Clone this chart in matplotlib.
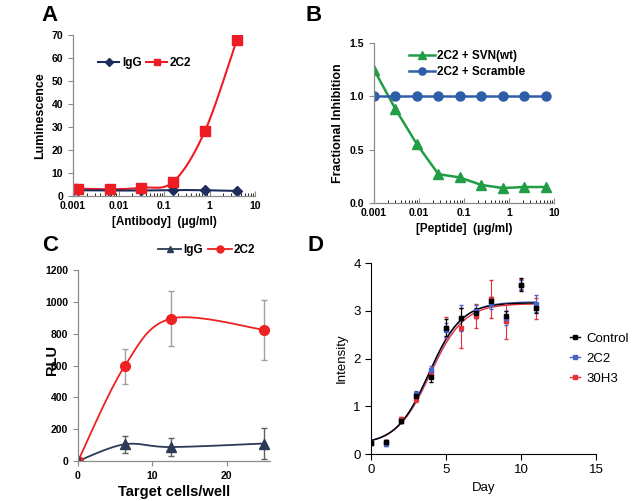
import numpy as np
import matplotlib
matplotlib.use("Agg")
import matplotlib.pyplot as plt

plt.rcParams['font.family'] = ['Liberation Sans', 'DejaVu Sans']

# Painel A
a_x = [0.001, 0.00128, 0.0064, 0.032, 0.16, 0.8, 4.0]
a_igg = [2.5, 2.5, 2.4, 2.4, 2.6, 2.5, 2.2]
a_2c2 = [3.0, 3.2, 2.9, 3.6, 6.2, 28.4, 68.0]

# Painel B
b_x = [0.001, 0.003, 0.009, 0.027, 0.08, 0.24, 0.73, 2.2, 6.6]
b_wt = [1.25, 0.88, 0.55, 0.27, 0.24, 0.17, 0.14, 0.15, 0.15]
b_scr = [1.0, 1.0, 1.0, 1.0, 1.0, 1.0, 1.0, 1.0, 1.0]

# Painel C
c_x = [0, 6.25, 12.5, 25]
c_igg = [0, 105, 88, 110]
c_igg_err = [0, 55, 55, 95]
c_2c2 = [0, 595, 895, 825]
c_2c2_err = [0, 112, 175, 190]

# Painel D
d_dias = [0, 1, 2, 3, 4, 5, 6, 7, 8, 9, 10, 11]
d_ctrl = [0.23, 0.25, 0.70, 1.22, 1.62, 2.65, 2.85, 2.95, 3.20, 2.90, 3.55, 3.05]
d_ctrl_err = [0.02, 0.05, 0.04, 0.08, 0.12, 0.18, 0.20, 0.10, 0.08, 0.10, 0.13, 0.10]
d_2c2 = [0.23, 0.22, 0.70, 1.25, 1.75, 2.60, 2.85, 3.00, 3.15, 2.85, 3.55, 3.15]
d_2c2_err = [0.02, 0.05, 0.04, 0.08, 0.10, 0.15, 0.28, 0.12, 0.12, 0.15, 0.10, 0.18]
d_30h3 = [0.23, 0.25, 0.73, 1.15, 1.70, 2.65, 2.65, 2.90, 3.25, 2.78, 3.55, 3.05]
d_30h3_err = [0.02, 0.04, 0.05, 0.06, 0.10, 0.22, 0.42, 0.25, 0.40, 0.37, 0.12, 0.22]
# parametros do ajuste sigmoide: base, topo, meio, inclinacao
d_fit = {'Control': (0.20, 3.17, 3.85, 1.08),
         '2C2': (0.20, 3.19, 3.90, 1.10),
         '30H3': (0.20, 3.15, 3.95, 1.12)}


def suave(x, y, n=40):
    # linha suavizada no estilo do Excel (bezier entre pontos)
    p = np.column_stack([np.asarray(x, float), np.asarray(y, float)])
    k = len(p)
    t = np.linspace(0, 1, n)[:, None]
    saida = []
    for i in range(k - 1):
        p0 = p[i - 1] if i > 0 else p[i]
        p3 = p[i + 2] if i + 2 < k else p[i + 1]
        c1 = p[i] + (p[i + 1] - p0) / 6
        c2 = p[i + 1] - (p3 - p[i]) / 6
        seg = ((1 - t) ** 3) * p[i] + 3 * ((1 - t) ** 2) * t * c1 \
            + 3 * (1 - t) * t ** 2 * c2 + t ** 3 * p[i + 1]
        saida.append(seg)
    s = np.vstack(saida)
    return s[:, 0], s[:, 1]


def estilo_cinza(ax):
    for s in ['top', 'right']:
        ax.spines[s].set_visible(False)
    for s in ['left', 'bottom']:
        ax.spines[s].set_color('#8c8c8c')
        ax.spines[s].set_linewidth(0.9)
    ax.tick_params(colors='#8c8c8c', labelcolor='black', labelsize=7.5, width=0.8)
    for lb in ax.get_xticklabels() + ax.get_yticklabels():
        lb.set_fontweight('bold')


fig = plt.figure(figsize=(6.32, 5.01), dpi=100)

# ---- A ----
ax = fig.add_axes([0.1155, 0.6088, 0.288, 0.3214])
lx = np.log10(a_x)
xs, ys = suave(lx, a_2c2)
ax.plot(10 ** xs, ys, color='#ee1c25', lw=1.5)
xs, ys = suave(lx, a_igg)
ax.plot(10 ** xs, ys, color='#1f2d5c', lw=1.5)
ax.plot(a_x, a_igg, 'D', color='#1f2d5c', ms=5, label='IgG')
ax.plot(a_x, a_2c2, 's', color='#ee1c25', ms=7, label='2C2')
ax.set_xscale('log')
ax.set_xlim(0.001, 10)
ax.set_ylim(0, 70)
ax.set_yticks(range(0, 71, 10))
ax.set_xticks([0.001, 0.01, 0.1, 1, 10])
ax.set_xticklabels(['0.001', '0.01', '0.1', '1', '10'])
ax.tick_params(axis='x', which='both', direction='in')
estilo_cinza(ax)
ax.set_ylabel('Luminescence', fontsize=9, fontweight='bold')
ax.set_xlabel('[Antibody]  (\u03bcg/ml)', fontsize=8.5, fontweight='bold', labelpad=4)
ha = [plt.Line2D([], [], color='#1f2d5c', marker='D', ms=4, lw=1.5),
      plt.Line2D([], [], color='#ee1c25', marker='s', ms=5, lw=1.5)]
leg = ax.legend(ha, ['IgG', '2C2'], loc='upper left', bbox_to_anchor=(0.08, 0.93), ncol=2,
                frameon=False, fontsize=8.5, handlelength=1.8, columnspacing=0.4, handletextpad=0.2)
for t in leg.get_texts():
    t.set_fontweight('bold')
fig.text(0.066, 0.97, 'A', fontsize=16, fontweight='bold', va='center')

# ---- B ----
ax = fig.add_axes([0.5918, 0.5948, 0.2848, 0.3194])
ax.plot(b_x, b_wt, '-^', color='#1f9e45', lw=1.8, ms=7, label='2C2 + SVN(wt)')
ax.plot(b_x, b_scr, '-o', color='#2e5ea8', lw=1.8, ms=6.5, label='2C2 + Scramble')
ax.set_xscale('log')
ax.set_xlim(0.001, 10)
ax.set_ylim(0, 1.5)
ax.set_yticks([0, 0.5, 1.0, 1.5])
ax.set_yticklabels(['0.0', '0.5', '1.0', '1.5'])
ax.set_xticks([0.001, 0.01, 0.1, 1, 10])
ax.set_xticklabels(['0.001', '0.01', '0.1', '1', '10'])
ax.tick_params(axis='x', which='both', direction='in')
estilo_cinza(ax)
ax.set_ylabel('Fractional Inhibition', fontsize=9, fontweight='bold')
ax.set_xlabel('[Peptide]  (\u03bcg/ml)', fontsize=8.5, fontweight='bold', labelpad=4)
leg = ax.legend(loc='upper right', bbox_to_anchor=(0.9, 1.02), frameon=False, fontsize=8.5,
                handlelength=2.2, handletextpad=0.2, labelspacing=0.3, markerscale=0.8)
for t in leg.get_texts():
    t.set_fontweight('bold')
fig.text(0.483, 0.97, 'B', fontsize=16, fontweight='bold', va='center')

# ---- C ----
ax = fig.add_axes([0.1234, 0.0798, 0.3038, 0.381])
xs, ys = suave(c_x, c_2c2)
ax.plot(xs, ys, color='#ee2222', lw=1.3)
xs, ys = suave(c_x, c_igg)
ax.plot(xs, ys, color='#2b3a55', lw=1.3)
ax.errorbar(c_x, c_2c2, yerr=c_2c2_err, fmt='o', color='#ee2222', ms=7,
            ecolor='#a0a0a0', elinewidth=1, capsize=2)
ax.errorbar(c_x, c_igg, yerr=c_igg_err, fmt='^', color='#2b3a55', ms=7,
            ecolor='#606060', elinewidth=1, capsize=2)
ax.set_xlim(0, 25.8)
ax.set_ylim(0, 1200)
ax.set_yticks(range(0, 1201, 200))
ax.set_xticks([0, 10, 20])
estilo_cinza(ax)
ax.set_xlabel('Target cells/well', fontsize=10.5, fontweight='bold', labelpad=3)
ax.set_ylabel('RLU', fontsize=10.5, fontweight='bold')
ax.yaxis.set_label_coords(-0.1, 0.53)
ha = [plt.Line2D([], [], color='#2b3a55', marker='^', ms=5, lw=1.3),
      plt.Line2D([], [], color='#ee2222', marker='o', ms=5, lw=1.3)]
leg = ax.legend(ha, ['IgG', '2C2'], loc='lower right', bbox_to_anchor=(0.98, 1.02), ncol=2,
                frameon=False, fontsize=8.5, handlelength=2.0, columnspacing=0.4, handletextpad=0.2)
for t in leg.get_texts():
    t.set_fontweight('bold')
fig.text(0.066, 0.51, 'C', fontsize=16, fontweight='bold', va='center')

# ---- D ----
ax = fig.add_axes([0.587, 0.0938, 0.356, 0.381])
cores = {'Control': 'black', '2C2': '#4a63c8', '30H3': '#e8303a'}
series = [('Control', d_ctrl, d_ctrl_err), ('2C2', d_2c2, d_2c2_err), ('30H3', d_30h3, d_30h3_err)]
xf = np.linspace(0, 11, 200)
for nome, y, e in series[::-1]:
    b, t, m, s = d_fit[nome]
    ax.plot(xf, b + (t - b) / (1 + np.exp(-(xf - m) / s)), color=cores[nome], lw=1)
for nome, y, e in series[::-1]:
    ax.errorbar(d_dias, y, yerr=e, fmt='s', color=cores[nome], ms=3, elinewidth=0.8, capsize=1.5)
ax.set_xlim(0, 15)
ax.set_ylim(0, 4)
ax.set_xticks([0, 5, 10, 15])
ax.set_yticks([0, 1, 2, 3, 4])
for s in ['top', 'right']:
    ax.spines[s].set_visible(False)
ax.tick_params(labelsize=9.5, length=4)
ax.set_xlabel('Day', fontsize=9.5)
ax.set_ylabel('Intensity', fontsize=9.5)
ha = [plt.Line2D([], [], color=cores[n], marker='s', ms=2.5, lw=1) for n in ['Control', '2C2', '30H3']]
ax.legend(ha, ['Control', '2C2', '30H3'], loc='center left', bbox_to_anchor=(0.83, 0.5),
          frameon=False, fontsize=9.5, handlelength=0.8, handletextpad=0.5, labelspacing=0.6)
fig.text(0.487, 0.51, 'D', fontsize=16, fontweight='bold', va='center')

fig.savefig('out.png', dpi=100)
